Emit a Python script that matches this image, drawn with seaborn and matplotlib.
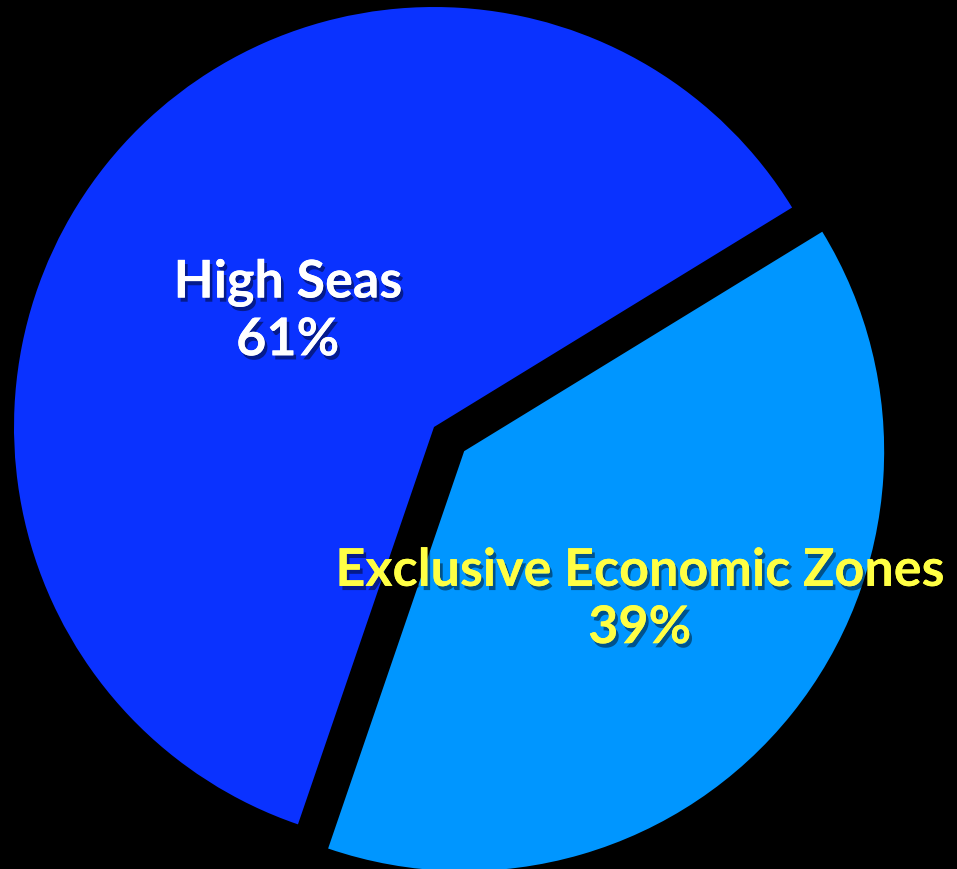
import matplotlib
matplotlib.use("Agg")
import matplotlib.pyplot as plt
import matplotlib.patheffects as pe
import seaborn as sns

# --- data ---
categories = ["High Seas", "Exclusive Economic Zones"]
shares = [61, 39]
slice_colors = ["#0A32FF", "#0096FF"]
label_colors = ["white", "#FFFF44"]
explode = [0.0, 0.092]

sns.set_style("dark")
plt.rcParams["font.family"] = ["Lato", "DejaVu Sans"]

fig = plt.figure(figsize=(9.57, 8.69), dpi=100, facecolor="black")
ax = fig.add_axes([0, 0, 1, 1])
ax.set_facecolor("black")

wedges, _ = ax.pie(shares, colors=slice_colors, explode=explode,
                   startangle=31.5, counterclock=True,
                   wedgeprops=dict(linewidth=0))

# crop the pie the same way as the slide
ax.set_xlim(-434 / 420, (957 - 434) / 420)
ax.set_ylim(-(869 - 427) / 420, 427 / 420)
ax.set_aspect("equal")
ax.axis("off")

shadow = [pe.withSimplePatchShadow(offset=(2, -3), shadow_rgbFace="black", alpha=0.45),
          pe.Normal()]

label_pos = [(-0.348, 0.274), (0.490, -0.412)]
for name, share, col, (x, y) in zip(categories, shares, label_colors, label_pos):
    ax.text(x, y, f"{name}\n{share}%", color=col, ha="center", va="center",
            ma="center", fontsize=37.5, fontweight="bold", linespacing=1.27,
            path_effects=shadow)

fig.savefig("out.png", dpi=100, facecolor="black")
